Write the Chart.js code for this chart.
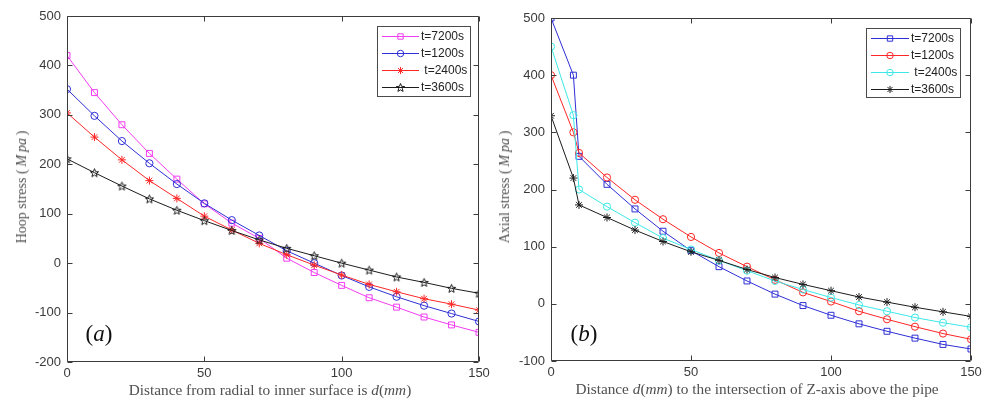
<!DOCTYPE html>
<html><head><meta charset="utf-8">
<script src="https://cdn.jsdelivr.net/npm/chart.js@4.4.1/dist/chart.umd.min.js"></script>
<style>
html,body{margin:0;padding:0;background:#fff;}
#wrap{position:relative;width:984px;height:401px;overflow:hidden;background:#fff;}
canvas{position:absolute;top:0;}
.t{position:absolute;font-family:"Liberation Serif","DejaVu Serif",serif;color:#505050;white-space:nowrap;font-size:14px;line-height:1;}
.xt{font-size:15.3px;}
.rot{transform:translate(-50%,-50%) rotate(-90deg);}
.hc{transform:translate(-50%,-50%);}
.lab{font-size:23px;color:#111;}
i{font-style:italic;}
</style></head>
<body><div id="wrap">
<canvas id="c1" width="490" height="401" style="left:0;width:490px;height:401px"></canvas>
<canvas id="c2" width="494" height="401" style="left:490px;width:494px;height:401px"></canvas>
<div class="t rot" style="left:22px;top:187px">Hoop stress (&thinsp;<i>M&thinsp;pa</i>&thinsp;)</div>
<div class="t rot" style="left:505px;top:187px">Axial stress (&thinsp;<i>M&thinsp;pa</i>&thinsp;)</div>
<div class="t xt hc" style="left:270px;top:390px">Distance from radial to inner surface is <i>d</i>(<i>mm</i>)</div>
<div class="t xt hc" style="left:757px;top:389px">Distance <i>d</i>(<i>mm</i>) to the intersection of Z-axis above the pipe</div>
<div class="t lab hc" style="left:99px;top:333px">(<i>a</i>)</div>
<div class="t lab hc" style="left:584px;top:333px">(<i>b</i>)</div>
</div>
<script>
// ---- data ----
const hoopX = [0,10,20,30,40,50,60,70,80,90,100,110,120,130,140,150];
const hoop7200 = [420,345,280,222,170,120,81,50,10,-19,-45,-70,-89,-109,-125,-140];
const hoop1200 = [352,298,247,202,160,121,87,56,25,0,-25,-48,-68,-86,-102,-118];
const hoop2400 = [304,255,209,167,131,95,67,40,17,-4,-24,-43,-58,-72,-83,-95];
const hoop3600 = [211,183,156,130,107,86,66,47,30,15,0,-14,-28,-39,-51,-61];

const axialX = [0,8,10,20,30,40,50,60,70,80,90,100,110,120,130,140,150];
const axial7200 = [500,400,258,209,166,127,93,65,40,17,-3,-20,-35,-48,-60,-71,-79];
const axial1200 = [400,300,264,221,182,148,117,89,65,42,20,4,-13,-27,-40,-52,-62];
const axial2400 = [450,330,200,170,142,115,95,76,58,40,25,11,-2,-13,-24,-33,-41];
const axial3600 = [329,220,173,151,129,109,91,76,60,46,34,23,12,3,-6,-14,-22];

const seriesLabels = ['t=7200s','t=1200s',' t=2400s','t=3600s'];
const hoopTicksY = [-200,-100,0,100,200,300,400,500];
const axialTicksY = [-100,0,100,200,300,400,500];
const xTicks = [0,50,100,150];

// ---- styles ----
const MAG='#f23cf2', BLU='#2f2fd6', RED='#ff2626', CYA='#3ee8e8', BLK='#1c1c1c';
function pentagram(color){
  const c=document.createElement('canvas'); c.width=11; c.height=11;
  const g=c.getContext('2d'); g.strokeStyle=color; g.lineWidth=1;
  g.beginPath();
  for(let i=0;i<10;i++){
    const r=i%2===0?4.4:1.9; const a=-Math.PI/2+i*Math.PI/5;
    const px=5.5+r*Math.cos(a), py=5.9+r*Math.sin(a);
    i===0?g.moveTo(px,py):g.lineTo(px,py);
  }
  g.closePath(); g.stroke(); return c;
}
const penta = pentagram(BLK);

function ds(label,xs,ys,color,style,radius,order){
  return {label, data: xs.map((x,i)=>({x, y: ys[i]})), borderColor: color, borderWidth: 1,
    pointStyle: style, pointRadius: radius, pointBorderColor: color, pointBackgroundColor:'rgba(0,0,0,0)',
    pointBorderWidth: 1, tension: 0, fill:false, order};
}

const framePlugin = {
  id:'frame',
  afterDraw(chart){
    const {ctx, chartArea:a, scales:{x,y}} = chart;
    const o = chart.options.plugins.frame;
    ctx.save();
    ctx.strokeStyle='#3c3c3c'; ctx.lineWidth=1;
    const L=Math.round(a.left)+0.5, R=Math.round(a.right)-0.5, T=Math.round(a.top)+0.5, B=Math.round(a.bottom)-0.5;
    ctx.beginPath(); ctx.rect(L,T,R-L,B-T);
    x.ticks.forEach(t=>{const p=Math.round(x.getPixelForValue(t.value))+0.5; ctx.moveTo(p,B); ctx.lineTo(p,B-5); ctx.moveTo(p,T); ctx.lineTo(p,T+5);});
    y.ticks.forEach(t=>{const p=Math.round(y.getPixelForValue(t.value))+0.5; ctx.moveTo(L,p); ctx.lineTo(L+5,p); ctx.moveTo(R,p); ctx.lineTo(R-5,p);});
    ctx.stroke();
    // legend
    const lg=o.legend;
    ctx.fillStyle='#fff'; ctx.fillRect(lg.x,lg.y,lg.w,lg.h);
    ctx.strokeStyle='#4a4a4a'; ctx.strokeRect(lg.x+0.5,lg.y+0.5,lg.w,lg.h);
    ctx.font='12px "Liberation Sans", Arial, sans-serif'; ctx.textBaseline='middle';
    chart.data.datasets.forEach((d,i)=>{
      const yy=lg.rows[i];
      ctx.strokeStyle=d.borderColor; ctx.lineWidth=1;
      ctx.beginPath(); ctx.moveTo(lg.l0,yy+0.5); ctx.lineTo(lg.l1,yy+0.5); ctx.stroke();
      ctx.fillStyle='rgba(0,0,0,0)';
      Chart.helpers.drawPoint(ctx,{pointStyle:d.pointStyle,radius:d.pointRadius*0.9,borderWidth:1,rotation:0},(lg.l0+lg.l1)/2,yy+0.5);
      ctx.fillStyle='#222';
      ctx.fillText(d.label,lg.tx,yy+1);
    });
    ctx.restore();
  }
};

function scaleOpts(min,max,yWidth,xHeight,ticksArr){
  const tickFont={family:'"Liberation Sans", Arial, sans-serif',size:13};
  return {
    x:{type:'linear',min:0,max:150,
      afterBuildTicks(s){s.ticks=xTicks.map(v=>({value:v}));},
      ticks:{padding:4,font:tickFont,color:'#3a3a3a',maxRotation:0,autoSkip:false},
      grid:{display:false,drawTicks:false},border:{display:false},
      afterFit(s){s.height=xHeight;s.paddingLeft=0;s.paddingRight=0;}},
    y:{type:'linear',min,max,
      afterBuildTicks(s){s.ticks=ticksArr.map(v=>({value:v}));},
      ticks:{padding:6,font:tickFont,color:'#3a3a3a',autoSkip:false},
      grid:{display:false,drawTicks:false},border:{display:false},
      afterFit(s){s.width=yWidth;s.paddingTop=0;s.paddingBottom=0;}}
  };
}

new Chart(document.getElementById('c1'),{
  type:'line',
  data:{datasets:[
    ds(seriesLabels[0],hoopX,hoop7200,MAG,'rect',4.2,3),
    ds(seriesLabels[1],hoopX,hoop1200,BLU,'circle',3.6,2),
    ds(seriesLabels[2],hoopX,hoop2400,RED,'star',4.0,1),
    ds(seriesLabels[3],hoopX,hoop3600,BLK,penta,5,0)
  ]},
  options:{responsive:false,animation:false,devicePixelRatio:1,
    layout:{padding:{left:0,top:16,right:11,bottom:0}},
    scales:scaleOpts(-200,500,67,39,hoopTicksY),
    plugins:{legend:{display:false},tooltip:{enabled:false},
      frame:{legend:{x:377,y:26,w:93,h:70,rows:[36,53,70,87],l0:382,l1:419,tx:421}}}
  },
  plugins:[framePlugin]
});

new Chart(document.getElementById('c2'),{
  type:'line',
  data:{datasets:[
    ds(seriesLabels[0],axialX,axial7200,BLU,'rect',4.2,3),
    ds(seriesLabels[1],axialX,axial1200,RED,'circle',3.6,2),
    ds(seriesLabels[2],axialX,axial2400,CYA,'circle',3.6,1),
    ds(seriesLabels[3],axialX,axial3600,BLK,'star',4.0,0)
  ]},
  options:{responsive:false,animation:false,devicePixelRatio:1,
    layout:{padding:{left:0,top:18,right:13,bottom:0}},
    scales:scaleOpts(-100,500,61,40,axialTicksY),
    plugins:{legend:{display:false},tooltip:{enabled:false},
      frame:{legend:{x:376,y:28,w:94,h:69,rows:[38,55,72,89],l0:381,l1:419,tx:421}}}
  },
  plugins:[framePlugin]
});
</script>
</body></html>
